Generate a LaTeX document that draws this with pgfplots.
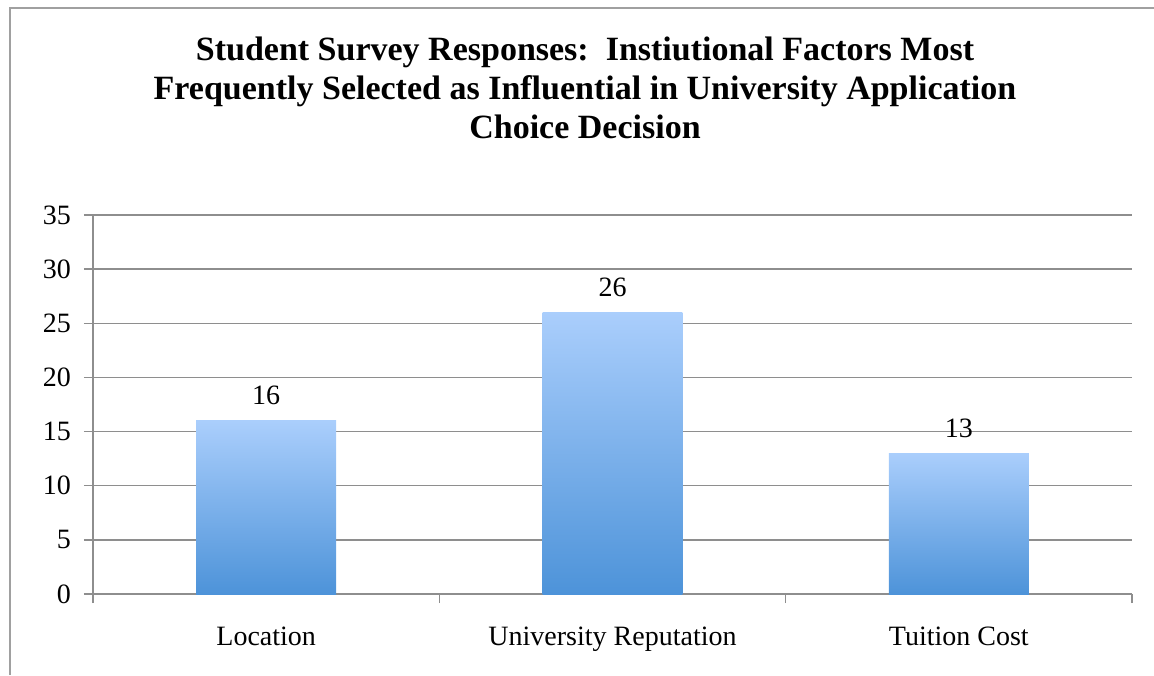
\documentclass[border=0pt]{standalone}
\usepackage{fontspec}
\setmainfont{Liberation Serif}
\usepackage{pgfplots}
\pgfplotsset{compat=1.18}
\definecolor{barTop}{HTML}{AACEFC}
\definecolor{barBot}{HTML}{4D93D9}
\definecolor{gridGray}{HTML}{8E8E8E}
\definecolor{frameGray}{HTML}{A0A0A0}
\begin{document}
\begin{tikzpicture}
\useasboundingbox (0,0) rectangle (577pt,-337.5pt);
% chart frame (left and top edges)
\draw[frameGray, line width=1pt] (4.75pt,-337.5pt) -- (4.75pt,-3.75pt) -- (577pt,-3.75pt);
% title
\node[align=center, font=\fontsize{17}{19.5}\selectfont\bfseries, anchor=base]
  at (292.5pt,-69pt)
  {Student Survey Responses:\ \ Instiutional Factors Most\\
   Frequently Selected as Influential in University Application\\
   Choice Decision};
\begin{axis}[
  at={(46.5pt,-297pt)}, anchor=south west, scale only axis,
  width=519.5pt, height=189.5pt,
  xmin=-0.5, xmax=2.5, ymin=0, ymax=35,
  ybar, bar width=0.404, bar shift=0pt,
  axis lines*=left,
  axis line style={gridGray, line width=0.75pt},
  ytick={0,5,...,35},
  ymajorgrids, major grid style={gridGray, line width=0.75pt},
  xtick={0,1,2},
  xticklabels={Location, University Reputation, Tuition Cost},
  minor xtick={-0.5,0.5,1.5,2.5},
  major x tick style={draw=none},
  tick style={gridGray, line width=0.75pt},
  tick align=outside,
  major tick length=4.5pt, minor tick length=4.5pt,
  ticklabel style={font=\fontsize{14}{16}\selectfont},
  /pgf/number format/assume math mode=true,
  yticklabel style={anchor=east, xshift=-3pt},
  xticklabel style={anchor=base, yshift=-21pt},
  nodes near coords,
  every node near coord/.append style={black, font=\fontsize{14}{16}\selectfont, anchor=base, yshift=8pt},
  every axis plot/.append style={draw=none, top color=barTop, bottom color=barBot},
]
% one plot per bar so each bar carries its own full gradient
\addplot coordinates {(0,16)};
\addplot coordinates {(1,26)};
\addplot coordinates {(2,13)};
\end{axis}
\end{tikzpicture}
\end{document}
